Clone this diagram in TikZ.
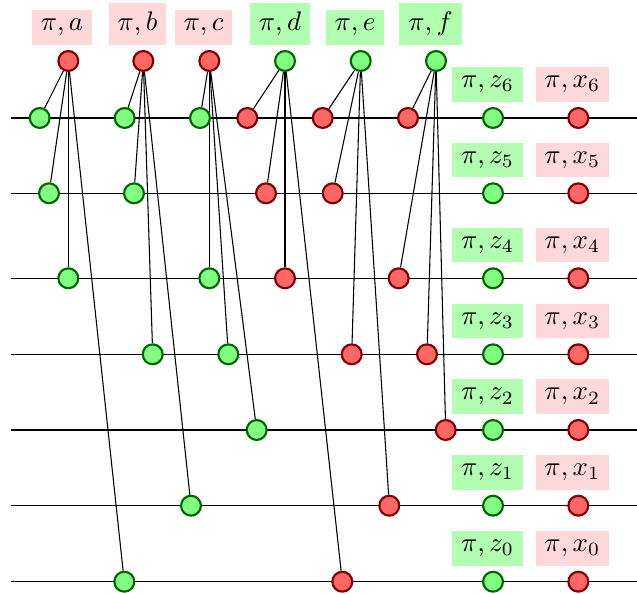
\documentclass[tikz,border=0pt]{standalone}
\usetikzlibrary{backgrounds}

\begin{document}
\begin{tikzpicture}[x=0.01307cm, y=-0.01307cm,
		rn/.style = {draw=red!50!black, fill=red!60, circle, thick, inner sep=0pt, minimum size=7.4pt},
		gn/.style = {draw=green!40!black, fill=green!50, circle, thick, inner sep=0pt, minimum size=7.4pt},
		rlab/.style = {fill=red!15, anchor=south},
		glab/.style = {fill=green!30, anchor=south}]
	\useasboundingbox (0,0) rectangle (637,594);
	% top row
	\node[rn] (a) at (68.3,61) {};
	\node[rn] (b) at (143.3,61) {};
	\node[rn] (c) at (209.3,61) {};
	\node[gn] (d) at (285,61) {};
	\node[gn] (e) at (360.7,61) {};
	\node[gn] (f) at (436,61) {};
	\node[rlab] (la) at (62,45.7) {$\pi, a$};
	\node[rlab] (lb) at (137.5,45.7) {$\pi, b$};
	\node[rlab] (lc) at (203.5,45.7) {$\pi, c$};
	\node[glab] (ld) at (280,45.7) {$\pi, d$};
	\node[glab] (le) at (355,45.7) {$\pi, e$};
	\node[glab] (lf) at (430.5,45.7) {$\pi, f$};
	% children on the rows
	\node[gn] (a6) at (39.7,118) {};
	\node[gn] (a5) at (49,193.3) {};
	\node[gn] (a4) at (68.3,278.3) {};
	\node[gn] (a0) at (124.3,581.7) {};
	\node[gn] (b6) at (124.7,118) {};
	\node[gn] (b5) at (134,193.3) {};
	\node[gn] (b3) at (152.7,354.3) {};
	\node[gn] (b1) at (191,505.7) {};
	\node[gn] (c6) at (200,118) {};
	\node[gn] (c4) at (209.3,278.3) {};
	\node[gn] (c3) at (228.3,354.3) {};
	\node[gn] (c2) at (256.7,430) {};
	\node[rn] (d6) at (247.3,118) {};
	\node[rn] (d5) at (266,193.3) {};
	\node[rn] (d4) at (285,278.3) {};
	\node[rn] (d0) at (342.3,581.7) {};
	\node[rn] (e6) at (322.7,118) {};
	\node[rn] (e5) at (332.7,193.3) {};
	\node[rn] (e3) at (351.7,354.3) {};
	\node[rn] (e1) at (389.3,505.7) {};
	\node[rn] (f6) at (408,118) {};
	\node[rn] (f4) at (398.7,278.3) {};
	\node[rn] (f3) at (427,354.3) {};
	\node[rn] (f2) at (445.7,430) {};
	% right columns and rows
	\foreach \i/\y in {6/118, 5/193.3, 4/278.3, 3/354.3, 2/430, 1/505.7, 0/581.7} {
		\node[gn] (z\i) at (493,\y) {};
		\node[rn] (x\i) at (578.3,\y) {};
		\node[glab] (lz\i) at (487.5,\y-15.3) {$\pi, z_{\i}$};
		\node[rlab] (lx\i) at (572.3,\y-15.3) {$\pi, x_{\i}$};
		\coordinate (s\i) at (11,\y);
		\coordinate (t\i) at (637,\y);
	}
	\begin{scope}[on background layer]
		\foreach \i in {0,...,6}
			\draw (s\i) -- (t\i);
		\foreach \p/\k in {a/6,a/5,a/4,a/0, b/6,b/5,b/3,b/1, c/6,c/4,c/3,c/2,
				d/6,d/5,d/4,d/0, e/6,e/5,e/3,e/1, f/6,f/4,f/3,f/2}
			\draw (\p) -- (\p\k);
	\end{scope}
\end{tikzpicture}
\end{document}
